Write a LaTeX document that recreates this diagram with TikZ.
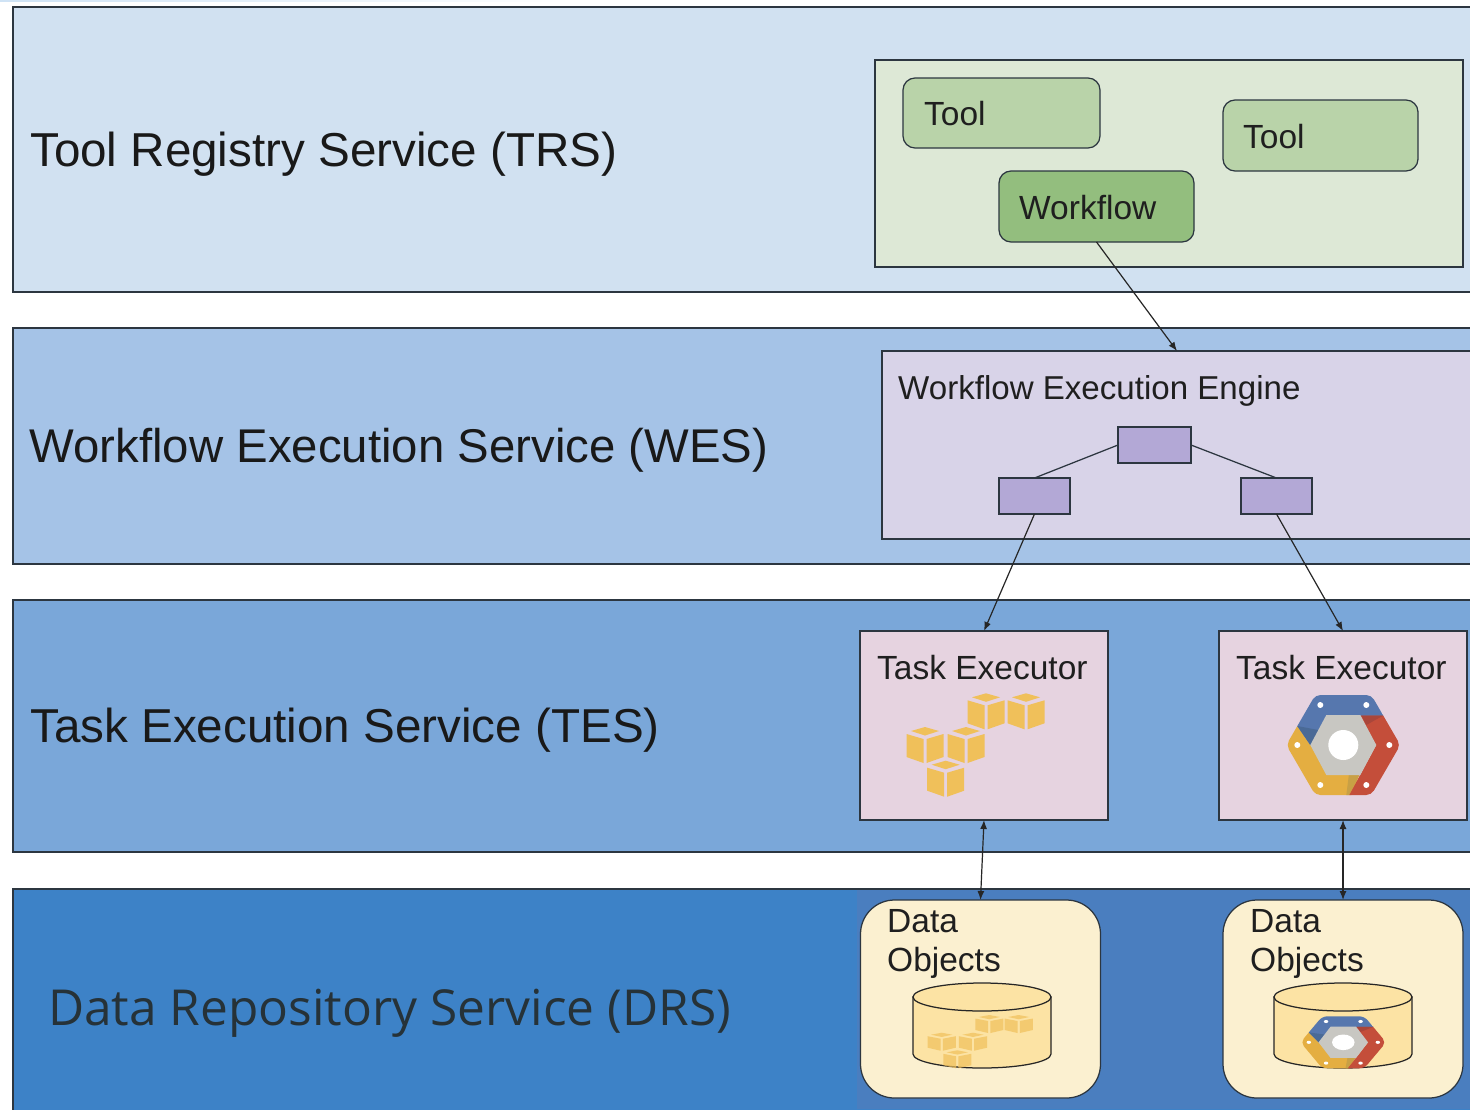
\documentclass[tikz,border=0pt]{standalone}
\usepackage{fontspec}
\setmainfont{Liberation Sans}
\newfontfamily\drsfont{Open Sans}
\usetikzlibrary{arrows.meta}
\definecolor{edgec}{HTML}{2C3640}
\definecolor{trsc}{HTML}{D1E1F1}
\definecolor{wesc}{HTML}{A5C3E7}
\definecolor{tesc}{HTML}{7AA7D9}
\definecolor{drsc}{HTML}{3D82C7}
\definecolor{drsr}{HTML}{4A7EBF}
\definecolor{drstxt}{HTML}{263238}
\definecolor{greenbg}{HTML}{DDE8D6}
\definecolor{toolc}{HTML}{B9D3A9}
\definecolor{wfc}{HTML}{93BE7E}
\definecolor{weec}{HTML}{D8D3E8}
\definecolor{subc}{HTML}{B3A8D6}
\definecolor{taskc}{HTML}{E6D3E0}
\definecolor{datac}{HTML}{FBF0D0}
\definecolor{cylc}{HTML}{FCE3A4}
\definecolor{cubec}{HTML}{F0C05A}
\definecolor{gblue}{HTML}{5677AE}
\definecolor{gblued}{HTML}{4A6A96}
\definecolor{gred}{HTML}{C44E3A}
\definecolor{gredd}{HTML}{A9463A}
\definecolor{gyel}{HTML}{E4AE41}
\definecolor{gyeld}{HTML}{C8A045}
\definecolor{ggray}{HTML}{C8C7C2}
\definecolor{stripc}{HTML}{CFE3F5}
\tikzset{
  x=1pt,y=-1pt,
  band/.style={draw=edgec,line width=1.25pt,anchor=north west,inner sep=0pt,outer sep=0pt},
  sqbox/.style={draw=edgec,line width=1.25pt,anchor=north west,inner sep=0pt,outer sep=0pt},
  rbox/.style={sqbox,rounded corners=12pt},
  dbox/.style={sqbox,fill=datac,rounded corners=34pt},
  bigtxt/.style={anchor=west,inner sep=0pt,font=\fontsize{47.6}{47.6}\selectfont,text=black!90},
  drstxtstyle/.style={anchor=west,inner sep=0pt,font=\drsfont\fontsize{49.6}{49.6}\selectfont,text=drstxt},
  smtxt/.style={anchor=west,inner sep=0pt,font=\fontsize{33.5}{33.5}\selectfont,text=black!88},
  conn/.style={draw=black!85,line width=1.2pt,-{Latex[length=9pt,width=7pt]}},
  bconn/.style={draw=black!85,line width=1.2pt,{Latex[length=9pt,width=7pt]}-{Latex[length=9pt,width=7pt]}},
  plain/.style={draw=edgec,line width=1.25pt},
  cube/.pic={
    \fill[cubec] (-14,4)--(0,0)--(14,4)--(0,8.5)--cycle;
    \fill[cubec] (-18.5,7)--(-1.5,12)--(-1.5,36)--(-18.5,30)--cycle;
    \fill[cubec] (1.5,12)--(18.5,7)--(18.5,30)--(1.5,36)--cycle;
  },
  gcp/.pic={
    \begin{scope}
    \clip[rounded corners=5pt] (-57,0)--(-28,-50)--(28,-50)--(57,0)--(28,50)--(-28,50)--cycle;
    \fill[gyel] (-46,-19)--(-60,0)--(-30,55)--(6,55)--(16,30)--(0,0)--(-33,0)--cycle;
    \fill[gyeld] (16,30)--(6,50)--(3,50)--(5.5,30)--cycle;
    \fill[gblue] (-33,0)--(-46,-19)--(-60,-19)--(-30,-55)--(30,-55)--(40,-29.5)--(0,0)--cycle;
    \fill[gblued] (-46,-19)--(-33,0)--(-25,-15)--cycle;
    \fill[gred] (0,0)--(18,-29.5)--(40,-29.5)--(60,0)--(30,55)--(6,55)--(6,50)--(33,0)--cycle;
    \fill[gredd] (18,-29.5)--(40,-29.5)--(23,-20)--cycle;
    \end{scope}
    \fill[ggray] (-33,0)--(-17,-30)--(17,-30)--(33,0)--(17,30)--(-17,30)--cycle;
    \fill[white] (0,0) ellipse (15 and 15);
    \foreach \dx/\dy in {-23/-40,23/-40,46/0,23/40,-23/40,-46/0}
      \fill[white] (\dx,\dy) ellipse (3 and 3);
  },
}
\newcommand{\cylinder}[1]{%
  \path[fill=cylc,draw=black!85,line width=1.25pt] (#1-69,997) -- (#1-69,1054) arc[start angle=180,end angle=0,x radius=69,y radius=14] -- (#1+69,997) -- cycle;
}
\newcommand{\cyltop}[1]{%
  \path[fill=cylc,draw=black!85,line width=1.25pt] (#1,997) ellipse (69 and 14);
}
\begin{document}
\begin{tikzpicture}
\useasboundingbox (0,0) rectangle (1470,1109);
\fill[white] (0,0) rectangle (1470,1109);
\shade[left color=stripc,right color=white] (0,0) rectangle (570,1.5);
% bands
\node[band,fill=trsc,minimum width=1480pt,minimum height=285pt] (trs) at (13,7) {};
\node[band,fill=wesc,minimum width=1480pt,minimum height=236pt] (wes) at (13,328) {};
\node[band,fill=tesc,minimum width=1480pt,minimum height=252pt] (tes) at (13,600) {};
\node[band,fill=drsc,minimum width=1480pt,minimum height=240pt] (drs) at (13,889) {};
\fill[drsr] (857,889.6) rectangle (1470,1109);
% band titles
\node[bigtxt] (ttrs) at (30,154.5) {Tool Registry Service (TRS)};
\node[bigtxt,font=\fontsize{47.35}{47.35}\selectfont] (twes) at (29.5,450.5) {Workflow Execution Service (WES)};
\node[bigtxt] (ttes) at (30,730.5) {Task Execution Service (TES)};
\node[drstxtstyle] (tdrs) at (48,1013) {Data Repository Service (DRS)};
% TRS
\node[sqbox,fill=greenbg,minimum width=588pt,minimum height=207pt] (reg) at (875,60) {};
\node[rbox,fill=toolc,minimum width=197pt,minimum height=70pt] (tool1) at (903,78) {};
\node[smtxt] (ltool1) at (924,114) {Tool};
\node[rbox,fill=toolc,minimum width=195pt,minimum height=71pt] (tool2) at (1223,100) {};
\node[smtxt] (ltool2) at (1243,137) {Tool};
\node[rbox,fill=wfc,minimum width=195pt,minimum height=71pt] (wf) at (999,171) {};
\node[smtxt] (lwf) at (1019,208) {Workflow};
% WES
\node[sqbox,fill=weec,minimum width=590pt,minimum height=188pt] (wee) at (882,351) {};
\node[smtxt,font=\fontsize{33.1}{33.1}\selectfont] (lwee) at (898,391) {Workflow Execution Engine};
\node[sqbox,fill=subc,minimum width=73pt,minimum height=36pt] (s0) at (1118,427) {};
\node[sqbox,fill=subc,minimum width=71pt,minimum height=36pt] (s1) at (999,478) {};
\node[sqbox,fill=subc,minimum width=71pt,minimum height=36pt] (s2) at (1241,478) {};
\draw[plain] (s0.west) -- (s1.north);
\draw[plain] (s0.east) -- (s2.north);
% TES
\node[sqbox,fill=taskc,minimum width=248pt,minimum height=189pt] (te1) at (860,631) {};
\node[smtxt] (lte1) at (877,668) {Task Executor};
\node[sqbox,fill=taskc,minimum width=248pt,minimum height=189pt] (te2) at (1219,631) {};
\node[smtxt] (lte2) at (1236,668) {Task Executor};
\foreach \cx/\cy in {986/693.3,1026/693.3,925/727,966/727,945.7/760.7}
  \pic at (\cx,\cy) {cube};
\pic at (1343.3,745) {gcp};
% DRS
\node[dbox,minimum width=240pt,minimum height=198pt] (d1) at (860.5,900) {};
\node[dbox,minimum width=240pt,minimum height=198pt] (d2) at (1223,900) {};
\node[smtxt] (ld1a) at (887,921) {Data};
\node[smtxt] (ld1b) at (887,963) {Objects};
\node[smtxt] (ld2a) at (1250,921) {Data};
\node[smtxt] (ld2b) at (1250,963) {Objects};
\cylinder{982}
\cylinder{1343}
\foreach \cx/\cy in {989.3/1015,1018.7/1015,941.7/1032.7,973/1032.7,957.3/1050.3}
  \pic[xscale=.76,yscale=.5,fill opacity=.7] at (\cx,\cy) {cube};
\pic[xscale=.75,yscale=.52] at (1343.3,1042.3) {gcp};
\cyltop{982}
\cyltop{1343}
% connectors
\draw[conn] (wf.south) -- (wee.north);
\draw[conn] (s1.south) -- (te1.north);
\draw[conn] (s2.south) -- (te2.north);
\draw[bconn] (te1.south) -- (d1.north);
\draw[bconn] (te2.south) -- (d2.north);
\end{tikzpicture}
\end{document}
